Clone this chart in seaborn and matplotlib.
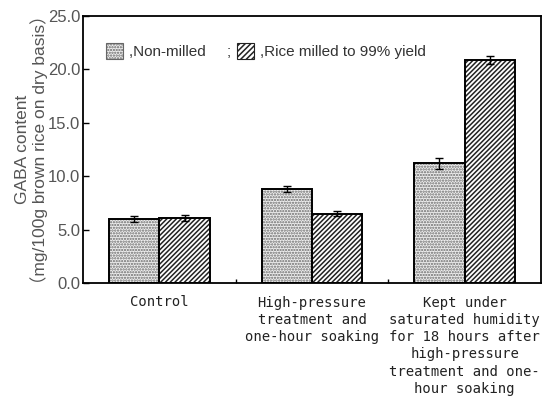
import matplotlib
matplotlib.use("Agg")
import matplotlib.pyplot as plt
import matplotlib.patches as mpatches
import seaborn as sns
import pandas as pd
import numpy as np

categories = [
    "Control",
    "High-pressure\ntreatment and\none-hour soaking",
    "Kept under\nsaturated humidity\nfor 18 hours after\nhigh-pressure\ntreatment and one-\nhour soaking",
]
series_names = ["Non-milled", "Rice milled to 99% yield"]
non_milled = [6.0, 8.8, 11.2]
milled = [6.1, 6.5, 20.9]
non_milled_err = [0.3, 0.25, 0.5]
milled_err = [0.3, 0.25, 0.35]
yticks = [0.0, 5.0, 10.0, 15.0, 20.0, 25.0]

df = pd.DataFrame({
    "cat": categories * 2,
    "series": [series_names[0]] * 3 + [series_names[1]] * 3,
    "val": non_milled + milled,
})

sns.set_theme(style="white")
plt.rcParams["font.family"] = ["Liberation Sans", "Noto Sans CJK JP"]
plt.rcParams["hatch.linewidth"] = 1.1

fig = plt.figure(figsize=(5.48, 4.00), dpi=100)
ax = fig.add_axes([0.1515, 0.2925, 0.8355, 0.6675])

sns.barplot(data=df, x="cat", y="val", hue="series", order=categories,
            hue_order=series_names, errorbar=None, width=0.66, ax=ax,
            palette=["#eeeeee", "#ffffff"], edgecolor="black", linewidth=1.4,
            legend=False, saturation=1)

hatches = ["......", "///////"]
hatch_colors = ["#6a6a6a", "#222222"]
bars = [p for p in ax.patches if isinstance(p, mpatches.Rectangle)][:6]
for i, p in enumerate(bars):
    s = i // 3
    p.set_hatch(hatches[s])
    p.set_edgecolor(hatch_colors[s])
    p.set_linewidth(0)
    p.set_zorder(2)
    outline = mpatches.Rectangle(p.get_xy(), p.get_width(), p.get_height(),
                                 facecolor="none", edgecolor="black",
                                 linewidth=1.4, zorder=2.5)
    ax.add_patch(outline)

for i, p in enumerate(bars):
    s = i // 3
    c = i % 3
    errs = non_milled_err if s == 0 else milled_err
    ax.errorbar(p.get_x() + p.get_width() / 2, p.get_height(), yerr=errs[c],
                fmt="none", ecolor="black", elinewidth=1.0, capsize=3,
                capthick=1.0, zorder=3)

ax.set_ylim(0, 25)
ax.set_yticks(yticks)
ax.set_yticklabels([f"{v:.1f}" for v in yticks], color="#555555", fontsize=12)
ax.tick_params(axis="y", direction="in", length=4, width=1, color="black", left=True, pad=2)
ax.set_xlim(-0.5, 2.5)
ax.set_xticks(range(3))
ax.set_xticklabels(categories, family="DejaVu Sans Mono", fontsize=10,
                   color="#222222", linespacing=1.3, va="top")
ax.tick_params(axis="x", length=0, pad=9)
ax.set_xticks([0.5, 1.5], minor=True)
ax.tick_params(axis="x", which="minor", direction="in", length=3, width=1,
               color="black", bottom=True)
ax.set_xlabel("")
ax.set_ylabel("GABA content\n（mg/100g brown rice on dry basis）", color="#555555",
              fontsize=12.5, linespacing=1.0, labelpad=0)
for sp in ax.spines.values():
    sp.set_color("black")
    sp.set_linewidth(1.3)

h1 = mpatches.Patch(facecolor="#eeeeee", edgecolor="#666666", hatch="......", linewidth=0.8)
h2 = mpatches.Patch(facecolor="#ffffff", edgecolor="#222222", hatch="//////", linewidth=0.8)
ax.legend([h1, h2], [",Non-milled     ;", ",Rice milled to 99% yield"],
          ncol=2, frameon=False, loc="upper left", bbox_to_anchor=(0.02, 0.95),
          handlelength=1.1, handleheight=1.2, handletextpad=0.4,
          columnspacing=0.4, fontsize=11, labelcolor="#333333")

fig.savefig("out.png", dpi=100)
